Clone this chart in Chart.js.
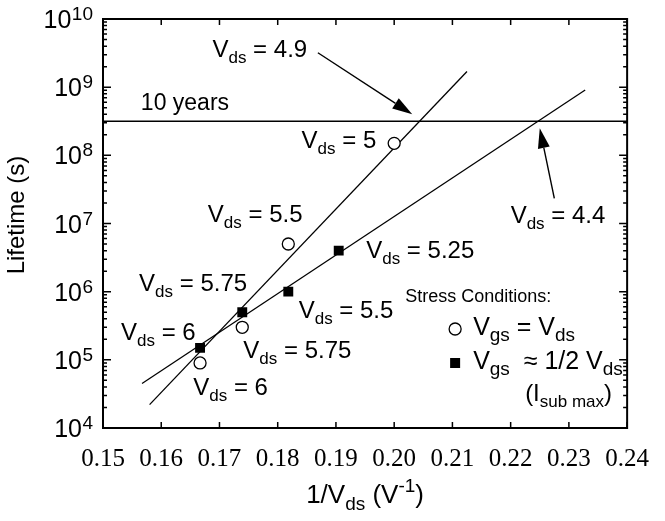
<!DOCTYPE html>
<html>
<head>
<meta charset="utf-8">
<script src="https://cdn.jsdelivr.net/npm/chart.js@4.4.1/dist/chart.umd.min.js"></script>
<style>
  html, body { margin: 0; padding: 0; background: #fff; }
  #wrap { width: 665px; height: 521px; position: relative; }
</style>
</head>
<body>
<div id="wrap"><canvas id="lifeChart"></canvas></div>
<script>
// Vgs = Vds stress (open circles)
const vdsCircle = [6, 5.75, 5.5, 5];
const lifeCircle = [9e4, 3e5, 5e6, 1.5e8];
// Vgs ~ 1/2 Vds stress, Isub max (filled squares)
const vdsSquare = [6, 5.75, 5.5, 5.25];
const lifeSquare = [1.5e5, 5e5, 1e6, 4e6];
// extrapolation lines (end points)
const fitCircleX = [0.158, 0.2125];
const fitCircleY = [2.2e4, 1.7e9];
const fitSquareX = [0.1567, 0.2328];
const fitSquareY = [4.5e4, 9.1e8];
// 10 years criterion
const tenYearsX = [0.15, 0.24];
const tenYearsY = [3.15e8, 3.15e8];
// tick labels
const xTicks = [0.15, 0.16, 0.17, 0.18, 0.19, 0.20, 0.21, 0.22, 0.23, 0.24];
const xTickLabels = ['0.15', '0.16', '0.17', '0.18', '0.19', '0.20', '0.21', '0.22', '0.23', '0.24'];
const yTickExponents = [4, 5, 6, 7, 8, 9, 10];

const SANS = '"Liberation Sans", Arial, Helvetica, sans-serif';
const SERIF = '"Liberation Serif", "Times New Roman", serif';

// text labels on the plot, anchored in data units (left edge, baseline)
const vds = v => [['V', ''], ['ds', 'sub'], [' = ' + v, '']];
const notes = [
  { parts: vds('4.9'),  x: 0.1688, y: 2.8e9 },
  { parts: vds('5'),    x: 0.1841, y: 1.28e8 },
  { parts: vds('4.4'),  x: 0.2200, y: 1.02e7 },
  { parts: vds('5.25'), x: 0.1952, y: 3.1e6 },
  { parts: vds('5.5'),  x: 0.1680, y: 1.05e7 },
  { parts: vds('5.75'), x: 0.1562, y: 1.02e6 },
  { parts: vds('6'),    x: 0.1531, y: 1.95e5 },
  { parts: vds('5.5'),  x: 0.1836, y: 4.1e5 },
  { parts: vds('5.75'), x: 0.1741, y: 1.05e5 },
  { parts: vds('6'),    x: 0.1655, y: 3.05e4 },
  { parts: [['10 years', '']], x: 0.1565, y: 4.6e8 }
];
// arrows: tail -> tip, data units
const arrows = [
  { x0: 0.1869, y0: 3.2e9, x1: 0.2031, y1: 4.0e8 },
  { x0: 0.2275, y0: 2.34e7, x1: 0.2250, y1: 2.5e8 }
];

function drawRich(ctx, parts, x, y, size, align, ratio) {
  const small = Math.round(size * (ratio || 0.7));
  let total = 0;
  parts.forEach(p => {
    ctx.font = (p[1] ? small : size) + 'px ' + SANS;
    total += ctx.measureText(p[0]).width;
  });
  let cx = align === 'center' ? x - total / 2 : align === 'right' ? x - total : x;
  ctx.textAlign = 'left';
  ctx.textBaseline = 'alphabetic';
  parts.forEach(p => {
    ctx.font = (p[1] ? small : size) + 'px ' + SANS;
    const dy = p[1] === 'sub' ? size * 0.25 : p[1] === 'sup' ? -size * 0.42 : 0;
    ctx.fillText(p[0], cx, y + dy);
    cx += ctx.measureText(p[0]).width;
  });
}

function drawArrow(ctx, x0, y0, x1, y1, len, half) {
  const a = Math.atan2(y1 - y0, x1 - x0);
  const bx = x1 - len * Math.cos(a), by = y1 - len * Math.sin(a);
  ctx.beginPath();
  ctx.moveTo(x0, y0);
  ctx.lineTo(bx, by);
  ctx.stroke();
  ctx.beginPath();
  ctx.moveTo(x1, y1);
  ctx.lineTo(bx + half * Math.sin(a), by - half * Math.cos(a));
  ctx.lineTo(bx - half * Math.sin(a), by + half * Math.cos(a));
  ctx.closePath();
  ctx.fill();
}

// frame, inward ticks, superscript tick labels, titles, annotations and legend
const decorPlugin = {
  id: 'decor',
  afterDatasetsDraw(chart) {
    const ctx = chart.ctx;
    const area = chart.chartArea;
    const xs = chart.scales.x, ys = chart.scales.y;
    ctx.save();
    ctx.strokeStyle = '#000';
    ctx.fillStyle = '#000';

    // frame
    ctx.lineWidth = 2;
    ctx.strokeRect(area.left, area.top, area.right - area.left, area.bottom - area.top);

    // x ticks (bottom and top, inward)
    ctx.lineWidth = 1.5;
    xs.ticks.forEach(t => {
      const px = xs.getPixelForValue(t.value);
      ctx.beginPath();
      ctx.moveTo(px, area.bottom); ctx.lineTo(px, area.bottom - 6);
      ctx.moveTo(px, area.top); ctx.lineTo(px, area.top + 6);
      ctx.stroke();
    });

    // y ticks, major and minor, left and right
    yTickExponents.forEach((e, i) => {
      const py = ys.getPixelForValue(Math.pow(10, e));
      ctx.beginPath();
      ctx.moveTo(area.left, py); ctx.lineTo(area.left + 8, py);
      ctx.moveTo(area.right, py); ctx.lineTo(area.right - 8, py);
      ctx.stroke();
      if (i < yTickExponents.length - 1) {
        for (let m = 2; m <= 9; m++) {
          const pm = ys.getPixelForValue(m * Math.pow(10, e));
          ctx.beginPath();
          ctx.moveTo(area.left, pm); ctx.lineTo(area.left + 4, pm);
          ctx.moveTo(area.right, pm); ctx.lineTo(area.right - 4, pm);
          ctx.stroke();
        }
      }
      // label 10^e
      const right = area.left - 10;
      ctx.font = '19px ' + SANS;
      const sw = ctx.measureText(String(e)).width;
      ctx.textAlign = 'right';
      ctx.textBaseline = 'alphabetic';
      ctx.fillText(String(e), right, py + 1);
      ctx.font = '25px ' + SANS;
      ctx.fillText('10', right - sw - 0.5, py + 9);
    });

    // axis titles
    drawRich(ctx, [['1/V', ''], ['ds', 'sub'], [' (V', ''], ['-1', 'sup'], [')', '']],
      (area.left + area.right) / 2, 503, 26, 'center', 0.72);
    ctx.save();
    ctx.translate(24, 215);
    ctx.rotate(-Math.PI / 2);
    ctx.font = '24px ' + SANS;
    ctx.textAlign = 'center';
    ctx.textBaseline = 'alphabetic';
    ctx.fillText('Lifetime (s)', 0, 0);
    ctx.restore();

    // annotations
    notes.forEach(n => {
      drawRich(ctx, n.parts, xs.getPixelForValue(n.x), ys.getPixelForValue(n.y), n.parts.length > 1 ? 24 : 23, 'left');
    });

    // arrows
    ctx.lineWidth = 1.4;
    arrows.forEach(a => {
      drawArrow(ctx, xs.getPixelForValue(a.x0), ys.getPixelForValue(a.y0),
        xs.getPixelForValue(a.x1), ys.getPixelForValue(a.y1), 20, 6);
    });

    // legend (inside plot, lower right)
    const lx = area.right - 172, ly = area.bottom - 99;
    ctx.font = '18px ' + SANS;
    ctx.textAlign = 'left';
    ctx.fillText('Stress Conditions:', lx - 50, ly - 27);
    ctx.lineWidth = 1.3;
    ctx.beginPath();
    ctx.arc(lx, ly, 6, 0, Math.PI * 2);
    ctx.fillStyle = '#fff';
    ctx.fill();
    ctx.stroke();
    ctx.fillStyle = '#000';
    ctx.fillRect(lx - 5, ly + 34 - 5, 10, 10);
    drawRich(ctx, [['V', ''], ['gs', 'sub'], [' = V', ''], ['ds', 'sub']], lx + 18, ly + 6, 25, 'left', 0.75);
    drawRich(ctx, [['V', ''], ['gs', 'sub'], ['  \u2248 1/2 V', ''], ['ds', 'sub']], lx + 18, ly + 40, 25, 'left', 0.75);
    drawRich(ctx, [['(I', ''], ['sub max', 'sub'], [')', '']], lx + 70, ly + 72, 24, 'left', 0.72);

    ctx.restore();
  }
};

const circlePoints = vdsCircle.map((v, i) => ({ x: 1 / v, y: lifeCircle[i] }));
const squarePoints = vdsSquare.map((v, i) => ({ x: 1 / v, y: lifeSquare[i] }));

new Chart(document.getElementById('lifeChart'), {
  type: 'scatter',
  data: {
    datasets: [
      {
        label: 'Vgs = Vds',
        data: circlePoints,
        pointStyle: 'circle',
        pointRadius: 6,
        backgroundColor: '#fff',
        borderColor: '#000',
        borderWidth: 1.3
      },
      {
        label: 'Vgs ~ 1/2 Vds',
        data: squarePoints,
        pointStyle: 'rect',
        pointRadius: 7,
        backgroundColor: '#000',
        borderColor: '#000',
        borderWidth: 0
      },
      {
        label: 'fit circles',
        data: fitCircleX.map((x, i) => ({ x: x, y: fitCircleY[i] })),
        showLine: true,
        pointRadius: 0,
        borderColor: '#000',
        borderWidth: 1.3
      },
      {
        label: 'fit squares',
        data: fitSquareX.map((x, i) => ({ x: x, y: fitSquareY[i] })),
        showLine: true,
        pointRadius: 0,
        borderColor: '#000',
        borderWidth: 1.3
      },
      {
        label: '10 years',
        data: tenYearsX.map((x, i) => ({ x: x, y: tenYearsY[i] })),
        showLine: true,
        pointRadius: 0,
        borderColor: '#000',
        borderWidth: 1.5
      }
    ]
  },
  options: {
    responsive: true,
    maintainAspectRatio: false,
    animation: false,
    events: [],
    layout: { padding: { top: 19, right: 26, bottom: 0, left: 0 } },
    plugins: {
      legend: { display: false },
      tooltip: { enabled: false }
    },
    scales: {
      x: {
        type: 'linear',
        min: 0.15,
        max: 0.24,
        afterBuildTicks: scale => { scale.ticks = xTicks.map(v => ({ value: v })); },
        afterFit: scale => { scale.height = 93; },
        grid: { display: false, drawTicks: false },
        border: { display: false },
        ticks: {
          padding: 16,
          color: '#000',
          font: { family: SERIF, size: 25 },
          maxRotation: 0,
          autoSkip: false,
          callback: (v, i) => xTickLabels[i]
        },
        title: { display: false }
      },
      y: {
        type: 'logarithmic',
        min: 1e4,
        max: 1e10,
        afterFit: scale => { scale.width = 103; },
        grid: { display: false, drawTicks: false },
        border: { display: false },
        ticks: { display: false },
        title: { display: false }
      }
    }
  },
  plugins: [decorPlugin]
});
</script>
</body>
</html>
